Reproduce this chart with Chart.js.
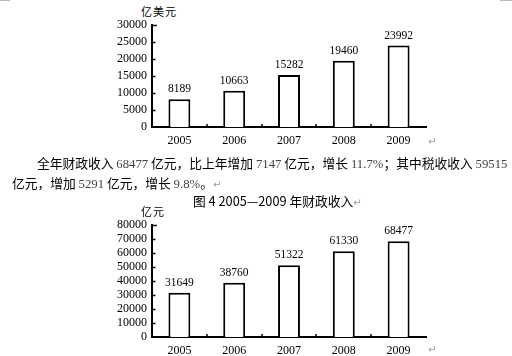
<!DOCTYPE html>
<html>
<head>
<meta charset="utf-8">
<script src="https://cdn.jsdelivr.net/npm/chart.js@4"></script>
<style>
  html,body{margin:0;padding:0;background:#fff;width:512px;height:356px;overflow:hidden;}
  .abs{position:absolute;white-space:nowrap;}
  .cjk{font-family:"Noto Sans CJK SC","Noto Sans",sans-serif;color:#000;}
  .num{font-family:"Liberation Serif",serif;color:#444;}
  .ret{color:#999;font-family:"DejaVu Sans",sans-serif;font-size:10px;}
</style>
</head>
<body>
<div class="abs" style="left:0;top:0;width:10px;height:1px;background:#bbb"></div>
<div class="abs" style="left:500px;top:0;width:12px;height:1px;background:#bbb"></div>

<div class="abs cjk" style="left:141px;top:3px;font-size:11px;letter-spacing:1px">亿美元</div>
<canvas id="c1" class="abs" style="left:0;top:0" width="512" height="150"></canvas>
<div class="abs ret" style="left:428px;top:136px">↵</div>

<div class="abs cjk" style="left:37px;top:153px;font-size:12.75px">全年财政收入 <span class="num">68477</span> 亿元，比上年增加 <span class="num">7147</span> 亿元，增长 <span class="num">11.7%</span>；其中税收收入 <span class="num">59515</span></div>
<div class="abs cjk" style="left:12px;top:173px;font-size:12.75px">亿元，增加 <span class="num">5291</span> 亿元，增长 <span class="num">9.8%</span>。<span class="ret">↵</span></div>
<div class="abs cjk" style="left:193px;top:191px;font-size:12.75px">图 4 2005—2009 年财政收入<span class="ret">↵</span></div>

<div class="abs cjk" style="left:141px;top:203px;font-size:11px;letter-spacing:1px">亿元</div>
<canvas id="c2" class="abs" style="left:0;top:195px" width="512" height="161"></canvas>
<div class="abs ret" style="left:428px;top:344px">↵</div>

<script>
const years = ["2005", "2006", "2007", "2008", "2009"];
const fxReserves = [8189, 10663, 15282, 19460, 23992];
const fiscalRevenue = [31649, 38760, 51322, 61330, 68477];
const axis1Max = 30000, axis1Step = 5000;
const axis2Max = 80000, axis2Step = 10000;

const serif = "Liberation Serif";

const decor = {
  id: 'decor',
  afterDatasetsDraw(chart) {
    const ctx = chart.ctx;
    const x = chart.scales.x, y = chart.scales.y;
    const area = chart.chartArea;
    ctx.save();
    ctx.strokeStyle = '#000';
    ctx.lineWidth = 1.5;
    y.ticks.forEach((t, i) => {
      if (t.value === 0) return;
      const py = Math.round(y.getPixelForValue(t.value)) + 0.5;
      const len = (i === y.ticks.length - 1) ? 5 : 3.5;
      ctx.beginPath();
      ctx.moveTo(area.left, py);
      ctx.lineTo(area.left + len, py);
      ctx.stroke();
    });
    const n = chart.data.labels.length;
    for (let i = 1; i < n; i++) {
      const px = Math.round((x.getPixelForValue(i - 1) + x.getPixelForValue(i)) / 2);
      ctx.beginPath();
      ctx.moveTo(px, area.bottom);
      ctx.lineTo(px, area.bottom - 3);
      ctx.stroke();
    }
    ctx.fillStyle = '#000';
    ctx.font = '11.5px "' + serif + '"';
    ctx.textAlign = 'center';
    ctx.textBaseline = 'bottom';
    const meta = chart.getDatasetMeta(0);
    meta.data.forEach((bar, i) => {
      ctx.fillText(String(chart.data.datasets[0].data[i]), bar.x, bar.y - 4);
    });
    ctx.restore();
  }
};

function makeChart(id, values, maxV, step, xHeight, padTop) {
  return new Chart(document.getElementById(id), {
    type: 'bar',
    data: {
      labels: years,
      datasets: [{
        data: values,
        backgroundColor: '#fff',
        borderColor: '#000',
        borderWidth: 2,
        borderSkipped: 'start',
        categoryPercentage: 1,
        barPercentage: 0.4
      }]
    },
    options: {
      responsive: false,
      animation: false,
      events: [],
      layout: { padding: { left: 0, right: 86, top: padTop, bottom: 0 } },
      plugins: { legend: { display: false }, tooltip: { enabled: false } },
      scales: {
        x: {
          grid: { display: false, drawTicks: false },
          border: { display: true, color: '#000', width: 2 },
          ticks: { color: '#000', font: { family: serif, size: 12 }, padding: 7, maxRotation: 0, autoSkip: false },
          afterFit(s) { s.height = xHeight; }
        },
        y: {
          min: 0, max: maxV,
          grid: { display: false, drawTicks: false },
          border: { display: true, color: '#000', width: 2 },
          ticks: {
            stepSize: step, autoSkip: false, color: '#000',
            font: { family: serif, size: 12 }, padding: 5,
            callback: (v) => String(v)
          },
          afterFit(s) { s.width = 152; }
        }
      }
    },
    plugins: [decor]
  });
}

makeChart('c1', fxReserves, axis1Max, axis1Step, 23, 25);
makeChart('c2', fiscalRevenue, axis2Max, axis2Step, 19, 30);
</script>
</body>
</html>
